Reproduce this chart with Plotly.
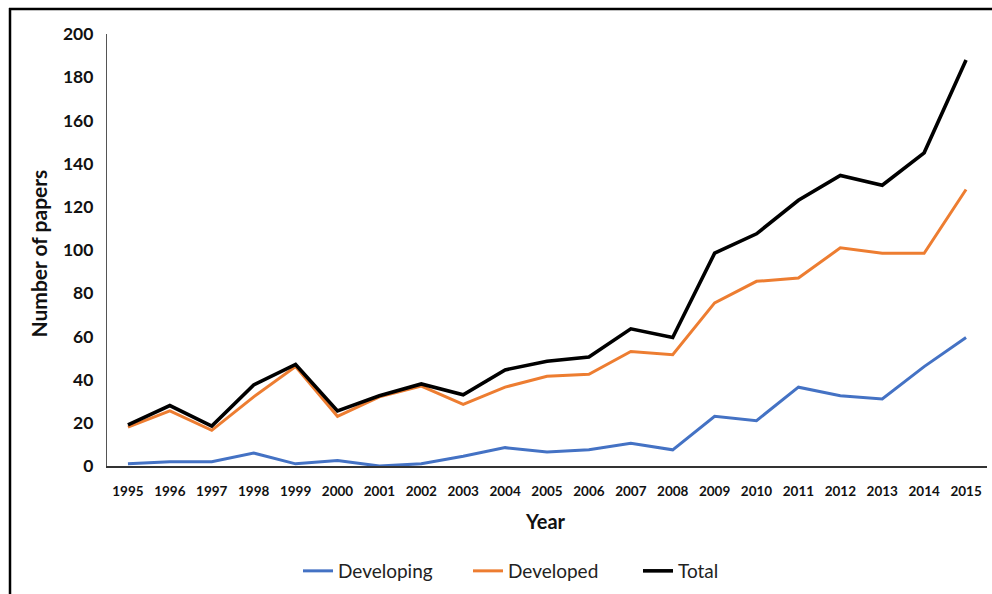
import plotly.graph_objects as go

years = list(range(1995, 2016))
developing = [1, 2, 2, 6, 1, 2.5, 0, 1, 4.5, 8.5, 6.5, 7.5, 10.5, 7.5, 23, 21, 36.5, 32.5, 31, 46, 59.5]
developed = [18, 25.5, 16.5, 32, 46, 23, 32, 37, 28.5, 36.5, 41.5, 42.5, 53, 51.5, 75.5, 85.5, 87, 101, 98.5, 98.5, 128]
total = [19, 28, 18.5, 37.5, 47, 25.5, 32.5, 38, 33, 44.5, 48.5, 50.5, 63.5, 59.5, 98.5, 107.5, 123, 134.5, 130, 145, 188]
y_ticks = [0, 20, 40, 60, 80, 100, 120, 140, 160, 180, 200]

FONT = "Lato"
L, R, T, B = 107, 5, 34, 127
W, H = 992, 594
PW, PH = W - L - R, H - T - B

def px(x):
    return (x - L) / PW

def py(y):
    return (H - B - y) / PH

fig = go.Figure()
fig.add_trace(go.Scatter(x=years, y=developing, mode="lines", name="Developing",
                         line=dict(color="#4472C4", width=3)))
fig.add_trace(go.Scatter(x=years, y=developed, mode="lines", name="Developed",
                         line=dict(color="#ED7D31", width=3)))
fig.add_trace(go.Scatter(x=years, y=total, mode="lines", name="Total",
                         line=dict(color="#000000", width=3.6)))

fig.update_layout(
    width=W, height=H,
    margin=dict(l=L, r=R, t=T, b=B),
    paper_bgcolor="white", plot_bgcolor="white",
    showlegend=True,
    legend=dict(orientation="h", x=px(553), xanchor="center", y=py(571), yanchor="middle",
                font=dict(family=FONT, size=19, color="#222"), entrywidth=125,
                bgcolor="rgba(0,0,0,0)"),
    xaxis=dict(range=[1994.5, 2015.5], tickvals=years, ticktext=[str(y) for y in years],
               showgrid=False, zeroline=False, showline=True, linecolor="#333", linewidth=1.5,
               ticks="", ticklabelstandoff=12,
               tickfont=dict(family=FONT, size=13.5, color="#111", weight="bold")),
    yaxis=dict(range=[0, 200], tickvals=y_ticks, showgrid=False, zeroline=False,
               showline=True, linecolor="#555", linewidth=1.2, ticks="", ticklabelstandoff=9,
               tickfont=dict(family=FONT, size=17.5, color="#111", weight="bold")),
    annotations=[
        dict(text="<b>Number of papers</b>", xref="paper", yref="paper", x=px(38), y=py(254),
             textangle=-90, showarrow=False, xanchor="center", yanchor="middle",
             font=dict(family=FONT, size=21, color="#111")),
        dict(text="<b>Year</b>", xref="paper", yref="paper", x=px(545), y=py(522),
             showarrow=False, xanchor="center", yanchor="middle",
             font=dict(family=FONT, size=20, color="#111")),
    ],
    shapes=[
        dict(type="line", xref="paper", yref="paper", x0=px(10), x1=px(10), y0=py(8), y1=py(600),
             line=dict(color="black", width=2.5)),
        dict(type="line", xref="paper", yref="paper", x0=px(9), x1=px(1000), y0=py(9), y1=py(9),
             line=dict(color="black", width=2.5)),
    ],
)

fig.write_html("out.html", config={"displayModeBar": False},
               post_script="document.body.style.margin='0';document.body.style.overflow='hidden';")
